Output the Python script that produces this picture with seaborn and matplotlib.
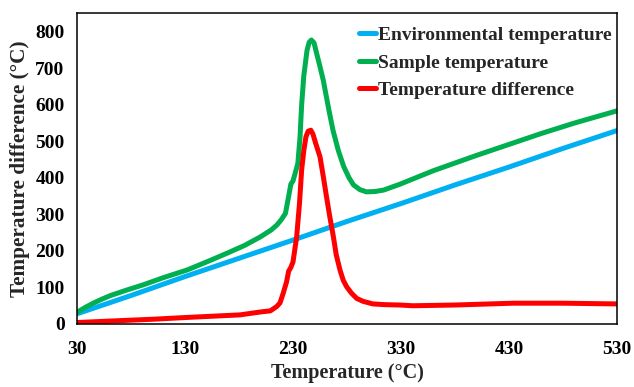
import matplotlib
matplotlib.use("Agg")
import matplotlib.pyplot as plt
import seaborn as sns
import pandas as pd

# ---- data ----
env_T = [30, 80, 130, 180, 233, 280, 332, 380, 431, 480, 531]
env_V = [28, 78, 130, 180, 233, 281, 332, 381, 431, 481, 531]

samp_T = [30, 38, 45, 53, 61, 75, 92, 110, 132, 150, 169, 185, 200, 210, 215, 219, 223, 226, 228, 230, 232, 234.5, 236.5,
          238, 240, 243, 245, 247, 249.5, 252, 255, 258, 263, 267, 272, 277, 282, 286,
          292, 298, 306, 314, 329, 360, 400, 430, 460, 490, 530]
samp_V = [32, 46, 57, 68, 78, 92, 108, 127, 148, 170, 194, 215, 239, 258, 271, 285, 303, 350, 383, 392, 413, 440, 512,
          600, 680, 750, 772, 778, 770, 740, 705, 668, 590, 531, 475, 431, 400, 381,
          368, 362, 363, 367, 383, 420, 462, 492, 522, 550, 584]

diff_T = [30, 60, 100, 132, 160, 181, 200, 209, 215, 218, 221, 224, 226, 228, 230,
          233.4, 236, 238, 240, 242, 244, 246.5, 248.5, 251, 255, 258, 261, 264, 267.4,
          270, 273.5, 276.5, 279.7, 284, 289, 295, 304, 315, 329, 341, 380, 434, 480, 530]
diff_V = [4, 8, 13, 18, 22, 25, 33, 36, 48, 58, 85, 115, 145, 155, 170,
          239, 330, 422, 475, 513, 528, 531, 520, 495, 458, 405, 349, 295, 239,
          190, 148, 120, 102, 85, 70, 62, 55, 53, 52, 50, 52, 57, 57, 55]

series_names = ["Environmental temperature", "Sample temperature", "Temperature difference"]
colors = ["#00B0F0", "#00B050", "#FF0000"]

x_ticks = [30, 130, 230, 330, 430, 530]
y_ticks = [0, 100, 200, 300, 400, 500, 600, 700, 800]

frames = []
for name, T, V in zip(series_names, [env_T, samp_T, diff_T], [env_V, samp_V, diff_V]):
    frames.append(pd.DataFrame({"T": T, "V": V, "series": name}))
df = pd.concat(frames, ignore_index=True)

sns.set_style("white")
plt.rcParams["font.family"] = ["Liberation Serif", "DejaVu Serif"]
plt.rcParams["font.weight"] = "bold"

fig = plt.figure(figsize=(6.34, 3.87), dpi=100)
ax = fig.add_axes([77 / 634, 1 - 324 / 387, 540 / 634, 311 / 387])

sns.lineplot(data=df, x="T", y="V", hue="series", hue_order=series_names,
             palette=colors, sort=False, estimator=None, linewidth=3.6, ax=ax)

ax.set_xlim(30, 530)
ax.set_ylim(0, 852)
ax.set_xticks(x_ticks)
ax.set_yticks(y_ticks)
ax.tick_params(direction="in", length=4, width=1, colors="black", labelsize=14,
               top=False, right=False)
ax.tick_params(axis="x", pad=12)
ax.tick_params(axis="y", pad=9)
for lab in ax.get_xticklabels() + ax.get_yticklabels():
    lab.set_fontweight("bold")
for s in ax.spines.values():
    s.set_color("black")
    s.set_linewidth(1.1)

ax.set_xlabel("Temperature (°C)", fontsize=14.5, fontweight="bold", labelpad=4)
ax.set_ylabel("Temperature difference (°C)", fontsize=15.3, fontweight="bold", labelpad=4)

leg = ax.legend(loc="upper left", bbox_to_anchor=(0.522, 0.956), frameon=False,
                fontsize=14, handlelength=0.9, handletextpad=0.1, labelspacing=0.5,
                borderpad=0, borderaxespad=0)
for t in leg.get_texts():
    t.set_fontweight("bold")
for l in leg.get_lines():
    l.set_linewidth(3.6)

fig.savefig("out.png", dpi=100)
